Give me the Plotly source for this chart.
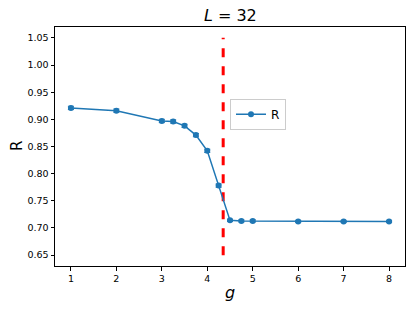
import plotly.graph_objects as go

g = [1, 2, 3, 3.25, 3.5, 3.75, 4, 4.25, 4.5, 4.75, 5, 6, 7, 8]
R = [0.921, 0.916, 0.897, 0.896, 0.888, 0.871, 0.842, 0.778, 0.714, 0.713, 0.713, 0.712, 0.712, 0.712]
R_err = [0.003, 0.003, 0.003, 0.003, 0.003, 0.003, 0.003, 0.003, 0.002, 0.002, 0.002, 0.002, 0.002, 0.002]
g_c = 4.35
vline_y = [0.65, 1.05]

blue = "#1f77b4"
fig = go.Figure()
fig.add_trace(go.Scatter(
    x=[g_c, g_c], y=vline_y, mode="lines",
    line=dict(color="red", width=3, dash="dash"), showlegend=False, hoverinfo="skip"))
fig.add_trace(go.Scatter(
    x=g, y=R, mode="lines+markers", name="R",
    line=dict(color=blue, width=1.5),
    marker=dict(color=blue, size=6),
    error_y=dict(type="data", array=R_err, color=blue, thickness=1, width=3)))

axis_common = dict(showline=True, linecolor="black", linewidth=1, mirror=True,
                   ticks="outside", ticklen=3.5, tickcolor="black", showgrid=False,
                   zeroline=False, tickfont=dict(size=9.5, color="black"), automargin=False)
fig.update_layout(
    width=415, height=311,
    margin=dict(l=55, r=10, t=27, b=45, autoexpand=False),
    paper_bgcolor="white", plot_bgcolor="white",
    font=dict(family="DejaVu Sans", color="black"),
    title=dict(text="<i>L</i> = 32", x=0.555, xanchor="center", y=0.95, yanchor="middle",
               font=dict(size=16, color="black"), automargin=False),
    xaxis=dict(range=[0.65, 8.35], tickvals=[1, 2, 3, 4, 5, 6, 7, 8],
               title=dict(text="<i>g</i>", font=dict(size=16), standoff=3), **axis_common),
    yaxis=dict(range=[0.63, 1.07], tickvals=[0.65, 0.70, 0.75, 0.80, 0.85, 0.90, 0.95, 1.00, 1.05],
               tickformat=".2f", **axis_common),
    legend=dict(x=0.5, y=0.70, xanchor="left", yanchor="top",
                bgcolor="rgba(255,255,255,0.8)", bordercolor="#cccccc", borderwidth=1,
                font=dict(size=12)),
    annotations=[dict(text="R", xref="paper", yref="paper", x=-0.11, y=0.5,
                      xanchor="center", yanchor="middle", textangle=-90, showarrow=False,
                      font=dict(size=15, color="black"))],
)
fig.write_html("out.html", config={"displayModeBar": False},
               post_script="document.body.style.margin='0';")
